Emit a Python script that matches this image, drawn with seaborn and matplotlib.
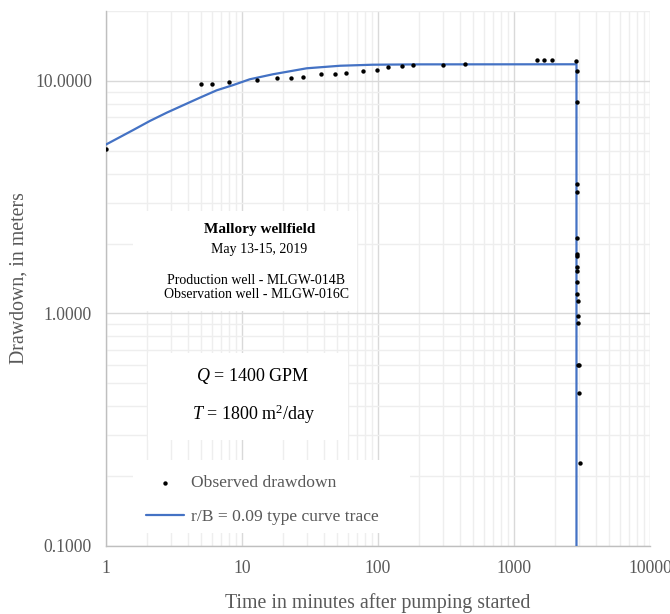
import matplotlib
matplotlib.use("Agg")
import matplotlib.pyplot as plt
import matplotlib.ticker as mticker
from matplotlib.patches import Rectangle
import numpy as np
import pandas as pd
import seaborn as sns

# Observed drawdown (minutes since pumping started, metres)
obs_time = [1, 5, 6, 8, 13, 18, 23, 28, 38, 48, 58, 78, 98, 119, 149, 180,
            302, 436, 1469, 1670, 1893, 2880, 2883, 2886,
            2890, 2893, 2897, 2901, 2905, 2910, 2915, 2920, 2926, 2932,
            2940, 2950, 2960, 2990, 3020, 3035]
obs_drawdown = [5.12, 9.68, 9.68, 9.93, 10.07, 10.27, 10.33, 10.40, 10.72,
                10.75, 10.82, 11.00, 11.10, 11.45, 11.60, 11.75,
                11.71, 11.86, 12.27, 12.30, 12.30, 12.15, 11.07, 8.13,
                3.62, 3.32, 2.11, 1.81, 1.77, 1.59, 1.52, 1.36, 1.21, 1.13,
                0.98, 0.91, 0.60, 0.60, 0.455, 0.228]

# Type curve trace, r/B = 0.09, pump shut off at 2880 min
curve_time = [1, 1.59, 2.10, 2.80, 3.70, 4.91, 6.52, 8.64, 11.4, 16.9,
              29.9, 52.7, 91.7, 203, 2880, 2880]
curve_drawdown = [5.33, 6.16, 6.73, 7.31, 7.87, 8.48, 9.12, 9.61, 10.17,
                  10.69, 11.34, 11.63, 11.75, 11.79, 11.80, 0.01]

x_ticks = [1, 10, 100, 1000, 10000]
y_ticks = [0.1, 1.0, 10.0]

sns.set_theme(style="white")
plt.rcParams["font.family"] = ["Liberation Serif", "DejaVu Serif"]
plt.rcParams["mathtext.fontset"] = "custom"
plt.rcParams["mathtext.rm"] = "Liberation Serif"
plt.rcParams["mathtext.it"] = "Liberation Serif:italic"

obs = pd.DataFrame({"time": obs_time, "drawdown": obs_drawdown})
curve = pd.DataFrame({"time": curve_time, "drawdown": curve_drawdown})

fig = plt.figure(figsize=(6.7, 6.14), dpi=100)
ax = fig.add_axes([106 / 670, 1 - 546 / 614, 544 / 670, 535 / 614])

ax.set_xscale("log")
ax.set_yscale("log")
ax.set_xlim(1, 10000)
ax.set_ylim(0.1, 20)

sns.lineplot(data=curve, x="time", y="drawdown", ax=ax, sort=False,
             estimator=None, color="#4472C4", linewidth=1.6,
             label="r/B = 0.09 type curve trace", zorder=3)
sns.scatterplot(data=obs, x="time", y="drawdown", ax=ax, color="black",
                s=10, linewidth=0, label="Observed drawdown", zorder=4)

# Grid
ax.set_axisbelow(True)
ax.grid(True, which="major", color="#d9d9d9", linewidth=1.0)
ax.grid(True, which="minor", color="#eeeeee", linewidth=1.0)
ax.xaxis.set_minor_locator(mticker.LogLocator(base=10, subs=np.arange(2, 10)))
ax.yaxis.set_minor_locator(mticker.LogLocator(base=10, subs=np.arange(2, 10)))
ax.xaxis.set_minor_formatter(mticker.NullFormatter())
ax.yaxis.set_minor_formatter(mticker.NullFormatter())

ax.set_xticks(x_ticks)
ax.set_xticklabels([str(v) for v in x_ticks])
ax.set_yticks(y_ticks)
ax.set_yticklabels([f"{v:.4f}" for v in y_ticks])
ax.tick_params(axis="both", which="both", length=0, labelsize=12.7,
               labelcolor="#595959")
ax.tick_params(axis="x", pad=10)
ax.tick_params(axis="y", pad=10)

for side in ["top", "right"]:
    ax.spines[side].set_visible(False)
for side in ["left", "bottom"]:
    ax.spines[side].set_color("#bfbfbf")
    ax.spines[side].set_linewidth(1.0)

ax.set_xlabel("Time in minutes after pumping started", fontsize=14.3,
              color="#595959", labelpad=12)
ax.set_ylabel("Drawdown, in meters", fontsize=14.3, color="#595959",
              labelpad=5)

# White panels behind the annotation text and the legend
for (x0, y0, w, h) in [(0.050, 0.440, 0.411, 0.186),
                       (0.077, 0.198, 0.368, 0.163),
                       (0.050, 0.024, 0.509, 0.137)]:
    ax.add_patch(Rectangle((x0, y0), w, h, transform=ax.transAxes,
                           facecolor="white", edgecolor="none", zorder=1))

ax.text(0.2825, 0.5925, "Mallory wellfield", transform=ax.transAxes,
        ha="center", va="center", fontsize=11, fontweight="bold",
        color="black", zorder=5)
ax.text(0.281, 0.555, "May 13-15, 2019", transform=ax.transAxes,
        ha="center", va="center", fontsize=10, color="black", zorder=5)
ax.text(0.275, 0.497, "Production well - MLGW-014B", transform=ax.transAxes,
        ha="center", va="center", fontsize=10, color="black", zorder=5)
ax.text(0.276, 0.470, "Observation well - MLGW-016C", transform=ax.transAxes,
        ha="center", va="center", fontsize=10, color="black", zorder=5)
ax.text(0.269, 0.318, "$Q$ = 1400 GPM", transform=ax.transAxes,
        ha="center", va="center", fontsize=13, color="black", zorder=5)
ax.text(0.272, 0.247, "$T$ = 1800 m$^{2}$/day", transform=ax.transAxes,
        ha="center", va="center", fontsize=13, color="black", zorder=5)

handles, labels = ax.get_legend_handles_labels()
order = [labels.index("Observed drawdown"),
         labels.index("r/B = 0.09 type curve trace")]
leg = ax.legend([handles[i] for i in order], [labels[i] for i in order],
                loc="center left", bbox_to_anchor=(0.0735, 0.086),
                frameon=False, borderaxespad=0, borderpad=0,
                fontsize=12.6, handlelength=2.2, handletextpad=0.4,
                labelspacing=1.0, markerscale=1.0)
for t in leg.get_texts():
    t.set_color("#595959")
leg.set_zorder(5)

fig.savefig("out.png", dpi=100)
